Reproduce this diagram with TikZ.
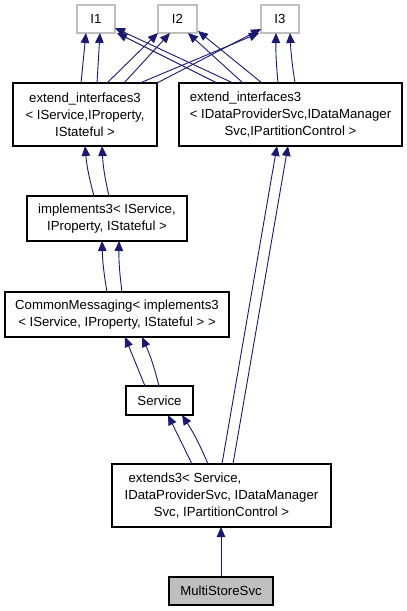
\documentclass[tikz,border=0pt]{standalone}
\usepackage{fontspec}
\usepackage{calc}
\setmainfont{Liberation Sans}
\usetikzlibrary{arrows.meta,calc}
\definecolor{edgeblue}{HTML}{191970}
\definecolor{lightborder}{HTML}{BFBFBF}
\definecolor{leaffill}{HTML}{BFBFBF}
\begin{document}
\begin{tikzpicture}[x=1pt,y=-1pt,
  box/.style={draw=black, line width=1.1pt, fill=white, inner sep=0pt, outer sep=0pt,
    align=center, font=\fontsize{13.2}{17}\selectfont},
  ifacebox/.style={box, draw=lightborder},
  leafbox/.style={box, fill=leaffill},
  edge/.style={draw=edgeblue, line width=0.9pt, -{Triangle[length=10pt,width=8.5pt]}}
]
\useasboundingbox (0,0) rectangle (407,611);
\fill[white] (0,0) rectangle (407,611);

% interface nodes
\node[ifacebox, minimum width=38pt, minimum height=28pt] (I1) at (96,19) {I1};
\node[ifacebox, minimum width=39pt, minimum height=28pt] (I2) at (177.5,19) {I2};
\node[ifacebox, minimum width=38pt, minimum height=28pt] (I3) at (280,19) {I3};

% class nodes
\node[box, minimum width=144pt, minimum height=63pt] (EI1) at (85,114.5)
  {extend\_interfaces3\\< IService,IProperty,\\IStateful >};
\node[box, minimum width=223pt, minimum height=63pt] (EI2) at (290.5,114.5)
  {\makebox[\widthof{< IDataProviderSvc,IDataManager}][l]{extend\_interfaces3}\\< IDataProviderSvc,IDataManager\\Svc,IPartitionControl >};
\node[box, minimum width=160pt, minimum height=45pt] (IMP) at (107,218.5)
  {implements3< IService,\\IProperty, IStateful >};
\node[box, minimum width=224pt, minimum height=45pt] (CM) at (117,314.5)
  {CommonMessaging< implements3\\< IService, IProperty, IStateful > >};
\node[box, minimum width=67pt, minimum height=29pt] (SVC) at (159.5,400.5) {Service};
\node[box, minimum width=219pt, minimum height=63pt] (EXT) at (221.5,495.5)
  {\makebox[\widthof{IDataProviderSvc, IDataManager}-8pt][l]{extends3< Service,}\\IDataProviderSvc, IDataManager\\Svc, IPartitionControl >};
\node[leafbox, minimum width=104pt, minimum height=28pt] (MSS) at (221,591) {MultiStoreSvc};

% extend_interfaces3 <IService...> -> I1, I2, I3
\draw[edge] ($(EI1.north west)+(68,0)$) -- ($(I1.south west)+(9,0)$);
\draw[edge] ($(EI1.north west)+(84,0)$) -- ($(I1.south west)+(23,0)$);
\draw[edge] ($(EI1.north west)+(94,0)$) -- (I2.south west);
\draw[edge] ($(EI1.north west)+(111,0)$) -- ($(I2.south west)+(12,0)$);
\draw[edge] ($(EI1.north west)+(127,0)$) -- ($(I3.south west)+(-2,0)$);
\draw[edge] (EI1.north east) -- ($(I3.south west)+(0,-4)$);

% extend_interfaces3 <IDataProviderSvc...> -> I1, I2, I3
\draw[edge] ($(EI2.north west)+(38,0)$) -- ($(I1.south east)+(2,0)$);
\draw[edge] ($(EI2.north west)+(54,0)$) -- ($(I1.south east)+(0,-5)$);
\draw[edge] ($(EI2.north west)+(64,0)$) -- ($(I2.south west)+(30,0)$);
\draw[edge] ($(EI2.north west)+(83,0)$) -- ($(I2.south east)+(1,-2)$);
\draw[edge] ($(EI2.north west)+(99,0)$) to[bend left=3] ($(I3.south west)+(15,0)$);
\draw[edge] ($(EI2.north west)+(116,0)$) to[bend left=3] ($(I3.south west)+(29,0)$);

% implements3 -> extend_interfaces3
\draw[edge] ($(IMP.north west)+(67,0)$) to[bend left=5] ($(EI1.south west)+(72,0)$);
\draw[edge] ($(IMP.north west)+(82,0)$) to[bend left=5] ($(EI1.south west)+(89,0)$);

% CommonMessaging -> implements3
\draw[edge] ($(CM.north west)+(102,0)$) to[bend left=4] ($(IMP.south west)+(75,0)$);
\draw[edge] ($(CM.north west)+(117,0)$) to[bend left=4] ($(IMP.south west)+(92,0)$);

% Service -> CommonMessaging
\draw[edge] ($(SVC.north west)+(19,0)$) -- ($(CM.south west)+(120,0)$);
\draw[edge] ($(SVC.north west)+(33,0)$) to[bend right=5] ($(CM.south west)+(137,0)$);

% extends3 -> Service
\draw[edge] ($(EXT.north west)+(80,0)$) -- ($(SVC.south west)+(42,0)$);
\draw[edge] ($(EXT.north west)+(96,0)$) to[bend right=5] ($(SVC.south west)+(56,0)$);

% extends3 -> extend_interfaces3 <IDataProviderSvc...>
\draw[edge] ($(EXT.north west)+(110,0)$) -- ($(EI2.south west)+(98,0)$);
\draw[edge] ($(EXT.north west)+(121,0)$) -- ($(EI2.south west)+(109,0)$);

% MultiStoreSvc -> extends3
\draw[edge] (MSS.north) -- (MSS.north |- EXT.south);
\end{tikzpicture}
\end{document}
